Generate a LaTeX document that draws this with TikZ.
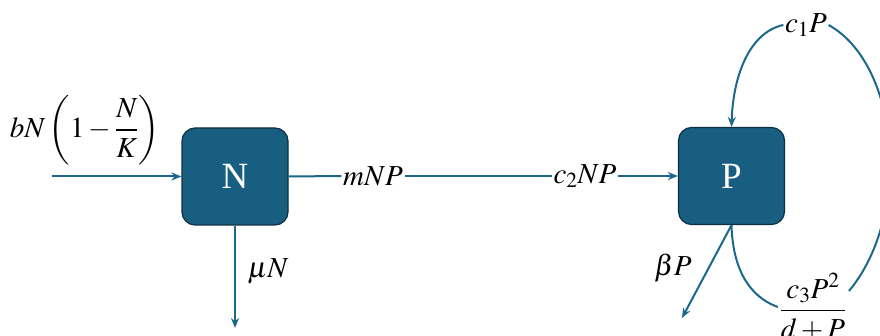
\documentclass[tikz,border=0pt]{standalone}
\usepackage{mathptmx}
\usepackage{fontspec}
\setmainfont{Liberation Serif}
\usetikzlibrary{arrows.meta}
\definecolor{boxfill}{RGB}{23,94,128}
\definecolor{boxline}{RGB}{14,48,66}
\definecolor{flowc}{RGB}{27,104,140}
\begin{document}
\begin{tikzpicture}[x=1pt,y=-1pt,
  box/.style={draw=boxline, line width=1.2pt, fill=boxfill, rounded corners=13pt,
    minimum width=106pt, minimum height=97pt, text=white, font=\fontsize{37}{40}\selectfont},
  flow/.style={draw=flowc, line width=2pt},
  arr/.style={flow, -{Stealth[length=10pt,width=8pt]}},
  lbl/.style={font=\fontsize{29}{32}\selectfont, inner sep=1.5pt}]
\useasboundingbox (0,0) rectangle (880,336);
\node[box] (N) at (235,176.5) {N};
\node[box] (P) at (731.5,176) {P};
\coordinate (in) at (52,176.5);
\draw[arr] (in) -- (N.west);
\node[lbl] (bn) at (85,130) {$\displaystyle bN\left(1-\frac{N}{K}\right)$};
\node[lbl] (mnp) at (373,176) {$mNP$};
\node[lbl] (c2) at (585,176) {$c_2NP$};
\draw[flow] (N.east) -- (mnp.west);
\draw[flow] (mnp.east) -- (c2.west);
\draw[arr] (c2.east) -- (P.west);
\coordinate (nout) at (235,328);
\draw[arr] (N.south) -- (nout);
\node[lbl] (mun) at (268,271) {$\mu N$};
\coordinate (pout) at (682,318);
\draw[arr] (P.south) -- (pout);
\node[lbl] (bp) at (673,268) {$\beta P$};
\node[lbl] (frac) at (813,307) {$\displaystyle\frac{c_3P^2}{d+P}$};
\node[lbl] (c1) at (806,25) {$c_1P$};
\coordinate (fr) at (849,291);
\draw[flow] (P.south) .. controls (733,280) and (758,300) .. (frac.west);
\draw[flow] (fr) .. controls (912,215) and (900,65) .. (c1.east);
\draw[arr] (c1.west) .. controls (750,32) and (733,75) .. (P.north);
\end{tikzpicture}
\end{document}
